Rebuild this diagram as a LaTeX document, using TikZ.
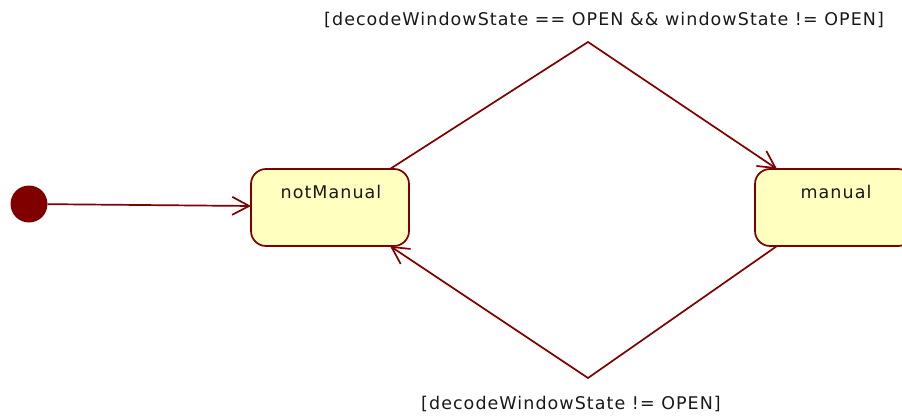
\documentclass[tikz,border=0pt]{standalone}
\usepackage{fontspec}
\setmainfont{DejaVu Sans}[LetterSpace=6]
\usetikzlibrary{arrows.meta}
\definecolor{edge}{HTML}{800000}
\definecolor{statefill}{HTML}{FFFFC0}
\begin{document}
\begin{tikzpicture}[x=1pt,y=-1pt,
  state/.style={draw=edge, fill=statefill, line width=1.7pt, rounded corners=15pt,
    minimum width=158pt, minimum height=77pt, inner sep=0pt},
  trans/.style={draw=edge, line width=1.7pt, -{Straight Barb[length=17pt,width=18pt,line width=1.7pt]}},
  lbl/.style={font=\fontsize{17.5}{20}\selectfont, inner sep=0pt, text=black!90}]
\useasboundingbox (0,0) rectangle (902,417);
\clip (0,0) rectangle (902,417);
% initial pseudo-state
\node[circle, fill=edge, minimum size=37pt, inner sep=0pt] (init) at (29,204) {};
% states
\node[state] (nm) at (330,207.5) {};
\node[lbl] at (331,192) {notManual};
\node[state] (man) at (834,207.5) {};
\node[lbl] at (836,192) {manual};
% bend points of the transitions
\coordinate (top) at (588,42);
\coordinate (bot) at (588,378);
\coordinate (nmTop) at (390,169);
\coordinate (manTop) at (777,169);
\coordinate (manBot) at (777,246);
\coordinate (nmBot) at (390,246);
% transitions
\draw[trans] (init) -- (251,206);
\draw[trans] (nmTop) -- (top) -- (manTop);
\draw[trans] (manBot) -- (bot) -- (nmBot);
% guards
\node[lbl] at (604,20) {[decodeWindowState == OPEN \&\& windowState != OPEN]};
\node[lbl] at (571,404) {[decodeWindowState != OPEN]};
\end{tikzpicture}
\end{document}
